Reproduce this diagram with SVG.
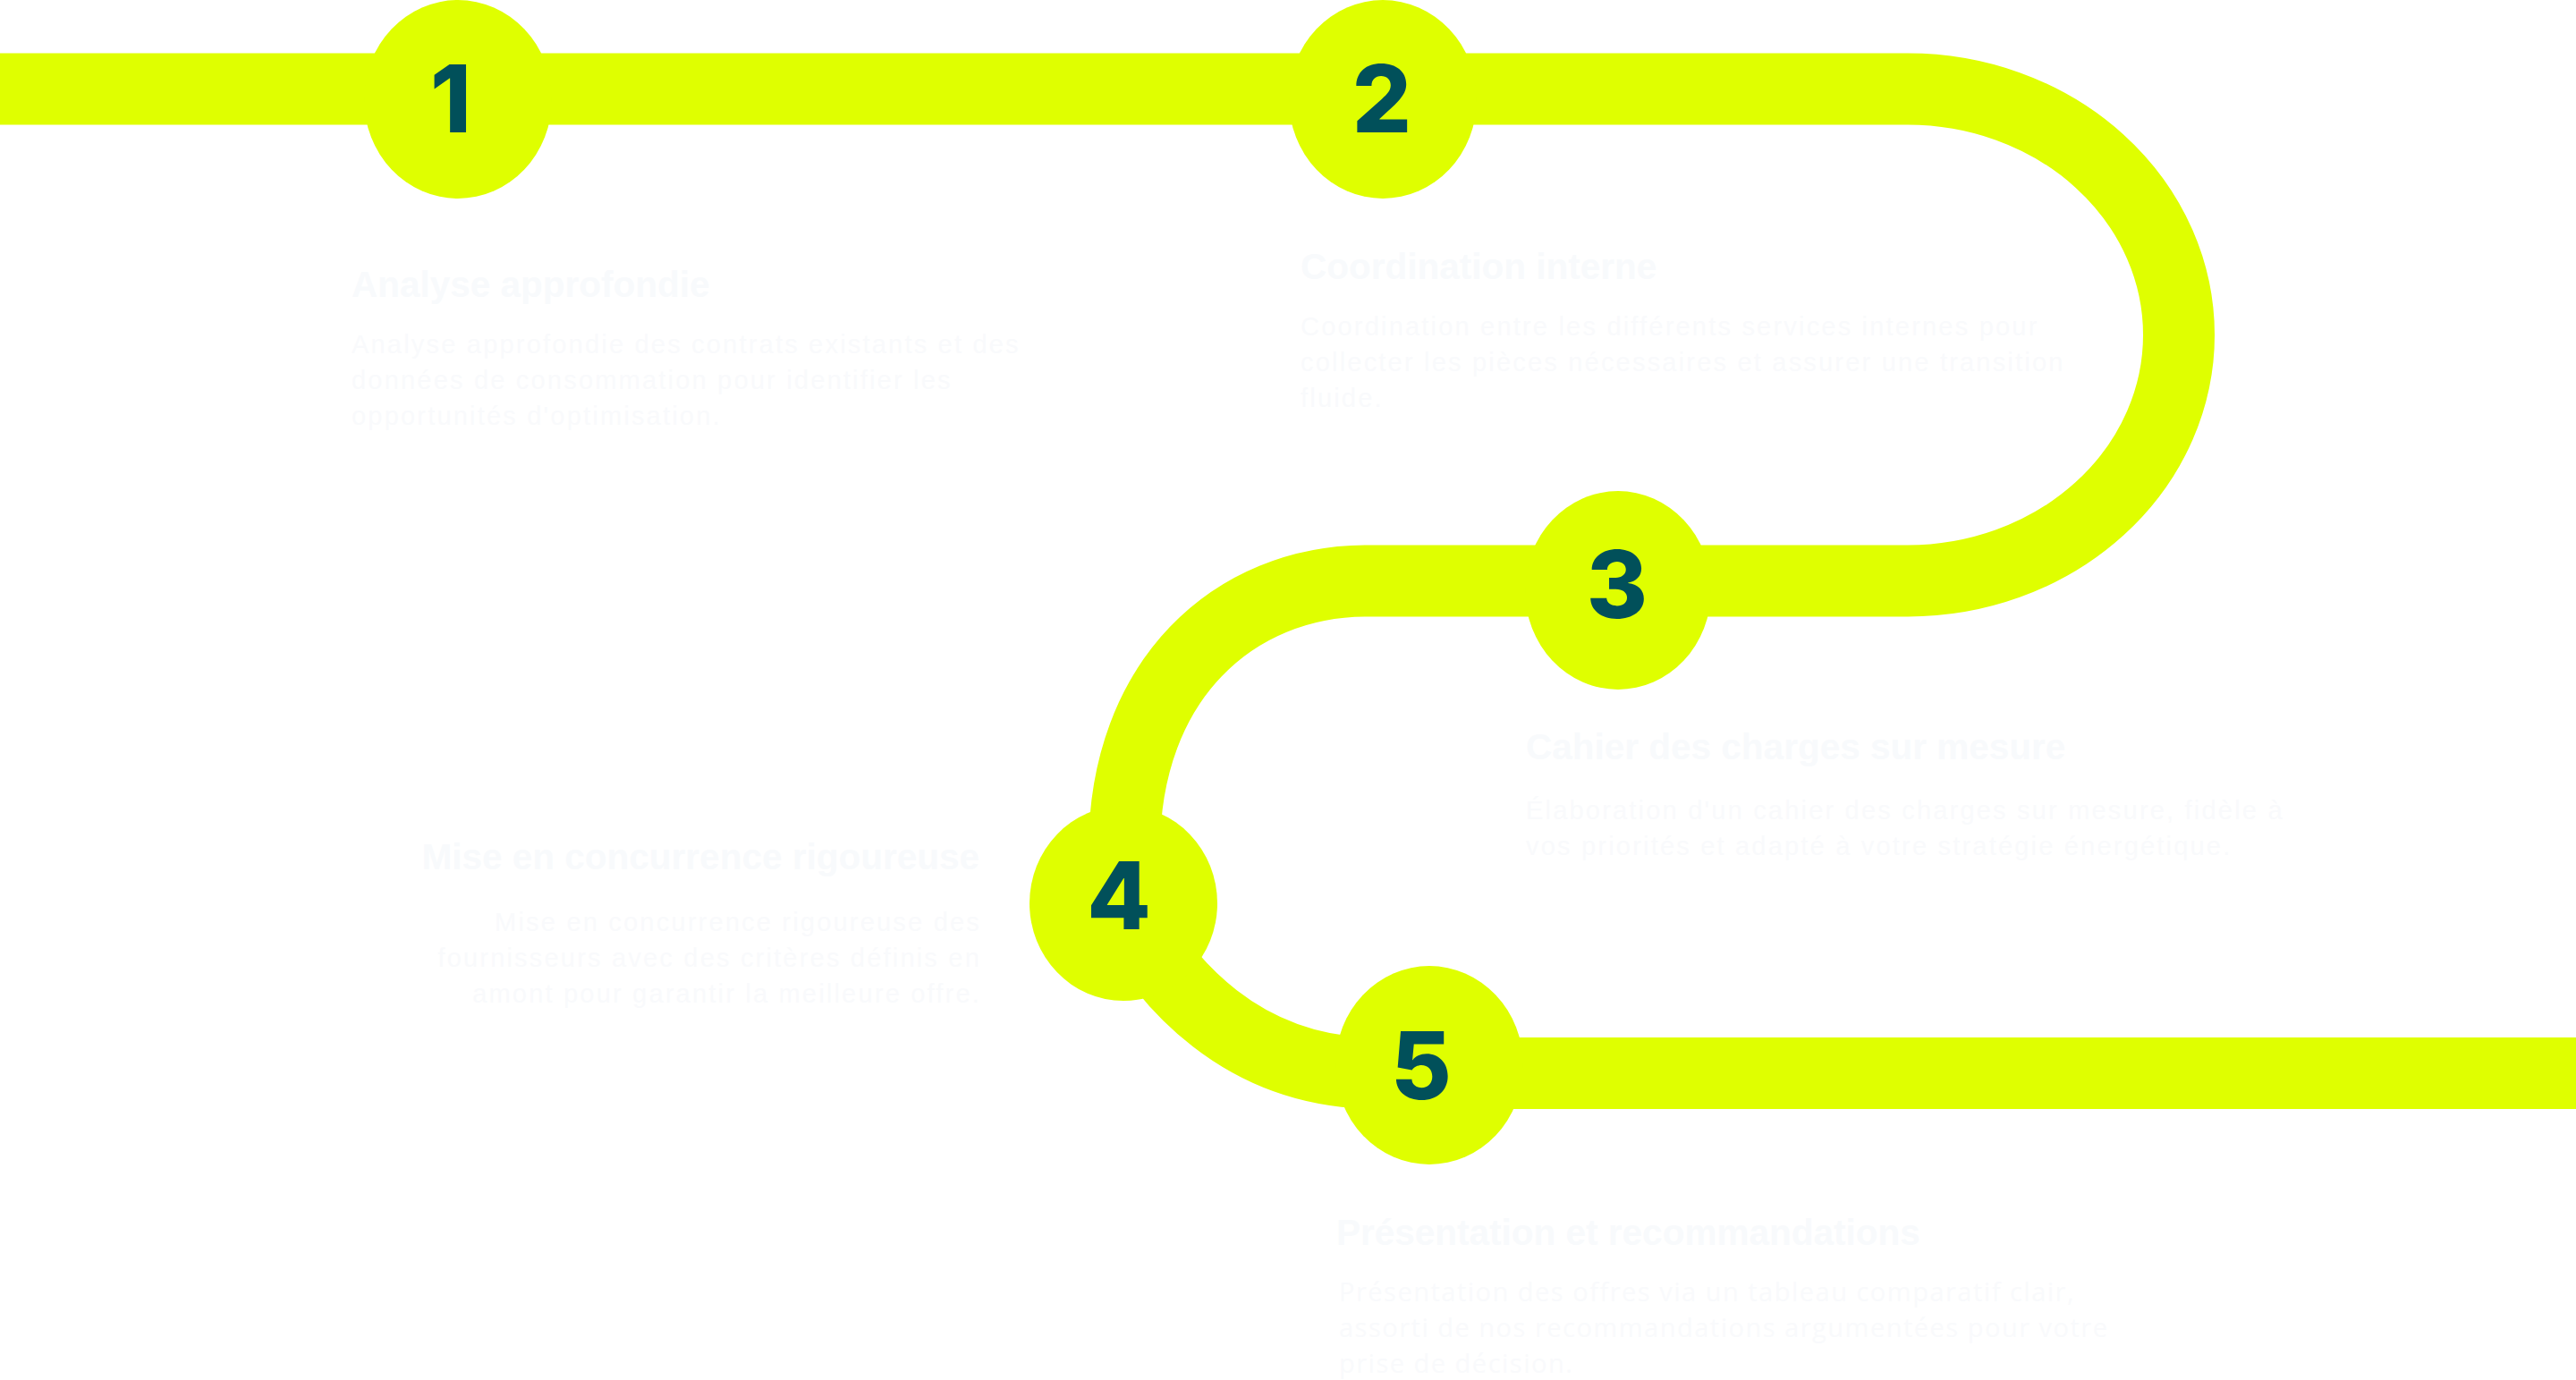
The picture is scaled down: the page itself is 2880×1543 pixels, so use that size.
<svg xmlns="http://www.w3.org/2000/svg" width="2880" height="1543" viewBox="0 0 2880 1543">
  <style>
    .track { fill: none; stroke: #DFFF00; stroke-width: 80; stroke-linejoin: round; }
    .dot { fill: #DFFF00; }
    .num { font-family: Inter, "Liberation Sans", sans-serif; font-weight: 800; font-size: 104px; fill: #01505A; text-anchor: middle; }
    .title { font-family: "Liberation Sans", Arial, sans-serif; font-weight: 700; font-size: 40.5px; fill: #F8FAFC; }
    .body { font-family: "Liberation Sans", Arial, sans-serif; font-size: 29px; letter-spacing: 2.2px; fill: #F9FAFC; }
    .body5 { font-family: "Open Sans", "Liberation Sans", sans-serif; font-size: 29px; letter-spacing: 1.5px; fill: #F9FAFC; }
    .end { text-anchor: end; }
  </style>
  <rect width="2880" height="1543" fill="#FFFFFF"/>

  <g id="connectors">
    <path class="track" d="M 0 99.5 H 2133 A 303 275 0 0 1 2133 649.5 H 1528 C 1380 649.5 1257 760 1257 950 L 1256 1010 C 1300 1100 1390 1200 1540 1200 H 2880"/>
  </g>

  <g id="node-1">
    <ellipse class="dot" cx="512" cy="111" rx="105" ry="111"/>
    <text class="num" x="504" y="148">1</text>
    <text class="title" x="393" y="332">Analyse approfondie</text>
    <text class="body" x="393" y="395">Analyse approfondie des contrats existants et des</text>
    <text class="body" x="393" y="435">données de consommation pour identifier les</text>
    <text class="body" x="393" y="475">opportunités d'optimisation.</text>
  </g>

  <g id="node-2">
    <ellipse class="dot" cx="1546" cy="111" rx="105" ry="111"/>
    <text class="num" x="1545" y="148">2</text>
    <text class="title" x="1454" y="312">Coordination interne</text>
    <text class="body" x="1454" y="375">Coordination entre les différents services internes pour</text>
    <text class="body" x="1454" y="415">collecter les pièces nécessaires et assurer une transition</text>
    <text class="body" x="1454" y="455">fluide.</text>
  </g>

  <g id="node-3">
    <ellipse class="dot" cx="1809" cy="660" rx="104" ry="111"/>
    <text class="num" x="1808" y="691">3</text>
    <text class="title" x="1706" y="849">Cahier des charges sur mesure</text>
    <text class="body" x="1706" y="916">Élaboration d'un cahier des charges sur mesure, fidèle à</text>
    <text class="body" x="1706" y="956">vos priorités et adapté à votre stratégie énergétique.</text>
  </g>

  <g id="node-4">
    <ellipse class="dot" cx="1256" cy="1010" rx="105" ry="109"/>
    <text class="num" x="1251" y="1039">4</text>
    <text class="title end" x="1095" y="972">Mise en concurrence rigoureuse</text>
    <text class="body end" x="1097" y="1041">Mise en concurrence rigoureuse des</text>
    <text class="body end" x="1097" y="1081">fournisseurs avec des critères définis en</text>
    <text class="body end" x="1097" y="1121">amont pour garantir la meilleure offre.</text>
  </g>

  <g id="node-5">
    <ellipse class="dot" cx="1598" cy="1191" rx="105" ry="111"/>
    <text class="num" x="1589" y="1229">5</text>
    <text class="title" x="1494" y="1392">Présentation et recommandations</text>
    <text class="body5" x="1497" y="1455">Présentation des offres via un tableau comparatif clair,</text>
    <text class="body5" x="1497" y="1495">assorti de nos recommandations argumentées pour votre</text>
    <text class="body5" x="1497" y="1535">prise de décision.</text>
  </g>
</svg>
